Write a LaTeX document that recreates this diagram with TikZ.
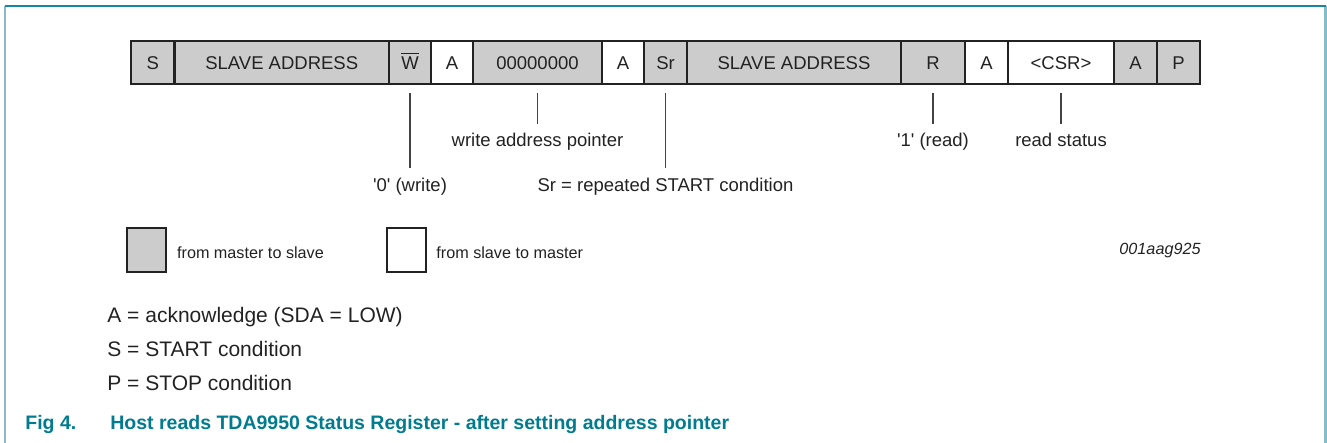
\documentclass[tikz,border=0pt]{standalone}
\usepackage{fontspec}
\setmainfont{Liberation Sans}
\usetikzlibrary{positioning}

\definecolor{barfill}{HTML}{CCCCCC}
\definecolor{ink}{HTML}{222222}
\definecolor{figteal}{HTML}{007B8F}
\definecolor{frameteal}{HTML}{1A85A0}
\definecolor{framelight}{HTML}{86BBCA}

\tikzset{
  field/.style={draw=ink, line width=1.2pt, minimum height=21.5pt, inner sep=0pt,
    text height=6.7pt, text depth=0pt, text=ink, font=\fontsize{9.25}{11}\selectfont},
  mts/.style={field, fill=barfill},
  stm/.style={field, fill=white},
  callout/.style={draw=ink!85, line width=0.6pt},
  lbl/.style={inner sep=4.6pt, text height=6.7pt, text depth=1.9pt, text=ink,
    font=\fontsize{9.25}{11}\selectfont},
  keybox/.style={draw=ink, line width=1.2pt, minimum width=19.5pt, minimum height=22pt},
  keytext/.style={anchor=base west, inner sep=0pt, text=ink, font=\fontsize{8.1}{10}\selectfont},
  note/.style={anchor=base west, inner sep=0pt, text=ink, font=\fontsize{10.5}{12}\selectfont},
  caption/.style={anchor=base west, inner sep=0pt, text=figteal, font=\bfseries\fontsize{9.75}{12}\selectfont}
}

\begin{document}
\begin{tikzpicture}[x=0.5pt,y=-0.5pt]
\useasboundingbox (0,0) rectangle (1327,443);

% frame
\draw[framelight, line width=0.75pt] (5,6) -- (5,443);
\draw[framelight, line width=1.5pt] (1325,6) -- (1325,443);
\draw[frameteal, line width=1pt] (5,6) -- (1325.75,6);

% the transfer
\node[mts, minimum width=21.75pt] (S) at (152.75,62.5) {S};
\node[mts, minimum width=107.25pt] (adr1) at (281.75,62.5) {SLAVE ADDRESS};
\node[mts, minimum width=21pt] (W) at (410,62.5) {$\overline{\hbox{W}}$};
\node[stm, minimum width=21pt] (A1) at (452,62.5) {A};
\node[mts, minimum width=64.5pt] (ptr) at (537.5,62.5) {00000000};
\node[stm, minimum width=21pt] (A2) at (623,62.5) {A};
\node[mts, minimum width=21.5pt] (Sr) at (665.5,62.5) {Sr};
\node[mts, minimum width=107pt] (adr2) at (794,62.5) {SLAVE ADDRESS};
\node[mts, minimum width=32pt] (R) at (933,62.5) {R};
\node[stm, minimum width=21.5pt] (A3) at (986.5,62.5) {A};
\node[stm, minimum width=53pt] (csr) at (1061,62.5) {<CSR>};
\node[mts, minimum width=21.5pt] (A4) at (1135.5,62.5) {A};
\node[mts, minimum width=21.5pt] (P) at (1178.5,62.5) {P};

% callouts
\node[lbl] (wlbl) at (410,186.7) {\textquotesingle0\textquotesingle{} (write)};
\node[lbl] (ptrlbl) at (537.5,142) {write address pointer};
\node[lbl] (srlbl) at (665.5,186.7) {Sr = repeated START condition};
\node[lbl] (rlbl) at (933,142) {\textquotesingle1\textquotesingle{} (read)};
\node[lbl] (csrlbl) at (1061,142) {read status};

\draw[callout] ([yshift=-4pt]W.south) -- (W.south |- wlbl.north);
\draw[callout] ([yshift=-4pt]ptr.south) -- (ptr.south |- ptrlbl.north);
\draw[callout] ([yshift=-4pt]Sr.south) -- (Sr.south |- srlbl.north);
\draw[callout] ([yshift=-4pt]R.south) -- (R.south |- rlbl.north);
\draw[callout] ([yshift=-4pt]csr.south) -- (csr.south |- csrlbl.north);

% key
\node[keybox, fill=barfill] (keymts) at (146.2,250) {};
\node[keytext] (keymtstxt) at (176.7,258.3) {from master to slave};
\node[keybox, fill=white] (keystm) at (406.5,250) {};
\node[keytext] (keystmtxt) at (436,258.3) {from slave to master};
\node[keytext, anchor=base, font=\itshape\fontsize{8.1}{10}\selectfont] (code) at (1160,254.5) {001aag925};

\node[note] (noteA) at (107,322) {A = acknowledge (SDA = LOW)};
\node[note] (noteS) at (107,356.7) {S = START condition};
\node[note] (noteP) at (107,390) {P = STOP condition};

% caption
\node[caption] (fignum) at (25,429) {Fig 4.};
\node[caption] (figtitle) at (110,429) {Host reads TDA9950 Status Register - after setting address pointer};

\end{tikzpicture}
\end{document}
